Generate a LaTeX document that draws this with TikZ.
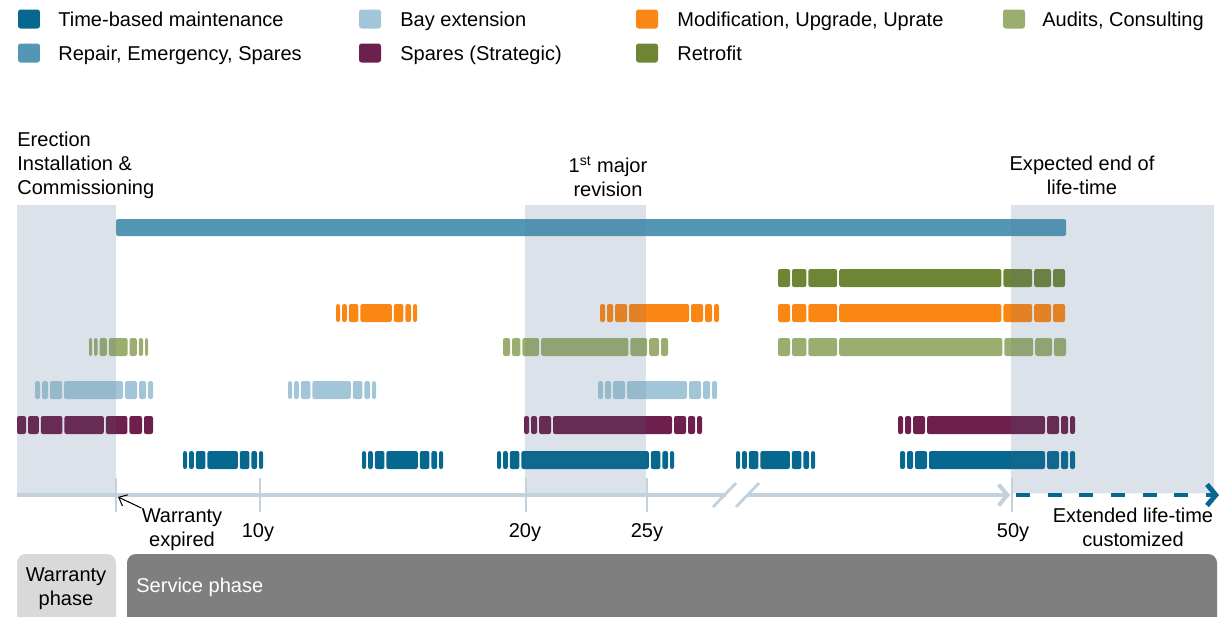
\documentclass[tikz,border=0pt]{standalone}
\usepackage{fontspec}
\setmainfont{Liberation Sans}
\usetikzlibrary{arrows.meta}

\definecolor{tbm}{HTML}{07688F}
\definecolor{rep}{HTML}{5397B5}
\definecolor{bay}{HTML}{A2C6D7}
\definecolor{spa}{HTML}{6D204E}
\definecolor{mod}{HTML}{FA8614}
\definecolor{aud}{HTML}{9BAE70}
\definecolor{ret}{HTML}{6E8536}
\definecolor{phasebg}{HTML}{F3F6F9}
\definecolor{phasetint}{HTML}{506E8C}
\definecolor{axisc}{HTML}{C3D1DD}
\definecolor{wbox}{HTML}{D9D9D9}
\definecolor{sbox}{HTML}{7F7F7F}

\newcommand{\lblfont}{\fontsize{11.4}{13.66}\selectfont}

\tikzset{
        lbl/.style={font=\lblfont, inner sep=0pt},
        key/.style={minimum width=0.44cm, minimum height=0.38cm, inner sep=0pt, rounded corners=1.5pt},
        seg/.style={rounded corners=1.2pt},
        tint/.style={fill=phasetint, fill opacity=0.14},
        axisline/.style={draw=axisc, line width=2.3pt},
        tick/.style={draw=axisc, line width=1.6pt},
        ext/.style={draw=tbm, line width=2.8pt, dash pattern=on 8pt off 10pt},
}

% segmented bar: colour, y, x start, x end, unit of the end pieces
\newcommand{\segbar}[5]{%
        \pgfmathsetmacro\sxa{#3+#5}
        \pgfmathsetmacro\sxb{\sxa+2}
        \pgfmathsetmacro\sxc{\sxb+1.2*#5}
        \pgfmathsetmacro\sxd{\sxc+2}
        \pgfmathsetmacro\sxe{\sxd+2.4*#5}
        \pgfmathsetmacro\sxf{\sxe+2}
        \pgfmathsetmacro\sxn{#4-#5}
        \pgfmathsetmacro\sxm{\sxn-2}
        \pgfmathsetmacro\sxl{\sxm-1.4*#5}
        \pgfmathsetmacro\sxk{\sxl-2}
        \pgfmathsetmacro\sxj{\sxk-2.4*#5}
        \pgfmathsetmacro\sxi{\sxj-2}
        \foreach \u/\v in {#3/\sxa,\sxb/\sxc,\sxd/\sxe,\sxf/\sxi,\sxj/\sxk,\sxl/\sxm,\sxn/#4}
                \fill[seg,#1] (\u,#2-9) rectangle (\v,#2+9);
}

\begin{document}
\begin{tikzpicture}[x=0.02cm,y=-0.02cm]
        \useasboundingbox (0,0) rectangle (1230,616);
        % legend
        \node[key,fill=tbm](k1) at (29,19) {};
        \node[lbl,anchor=base west](t1) at (58,26) {Time-based maintenance};
        \node[key,fill=rep](k2) at (29,53) {};
        \node[lbl,anchor=base west](t2) at (58,60) {Repair, Emergency, Spares};
        \node[key,fill=bay](k3) at (370,19) {};
        \node[lbl,anchor=base west](t3) at (400,26) {Bay extension};
        \node[key,fill=spa](k4) at (370,53) {};
        \node[lbl,anchor=base west](t4) at (400,60) {Spares (Strategic)};
        \node[key,fill=mod](k5) at (647,19) {};
        \node[lbl,anchor=base west](t5) at (677,26) {Modification, Upgrade, Uprate};
        \node[key,fill=ret](k6) at (647,53) {};
        \node[lbl,anchor=base west](t6) at (677,60) {Retrofit};
        \node[key,fill=aud](k7) at (1014,19) {};
        \node[lbl,anchor=base west](t7) at (1042,26) {Audits, Consulting};
        % phase labels
        \node[lbl,align=left,anchor=north west](er) at (17,132) {Erection\\Installation \&\\Commissioning};
        \node[lbl,align=center,anchor=north](mr) at (608,156) {1\textsuperscript{st} major\\revision};
        \node[lbl,align=center,anchor=north](ee) at (1082,156) {Expected end of\\life-time};
        % shaded phases
        \fill[phasebg] (17,205) rectangle (116,494);
        \fill[phasebg] (525,205) rectangle (646,494);
        \fill[phasebg] (1011,205) rectangle (1214,494);
        % bars
        \fill[seg,rep] (116,219) rectangle (1066,236);
        \segbar{ret}{278}{778}{1065}{12}
        \segbar{mod}{313}{336}{417}{4}
        \segbar{mod}{313}{600}{719}{5}
        \segbar{mod}{313}{778}{1065}{12}
        \segbar{aud}{347}{89}{148}{3}
        \segbar{aud}{347}{503}{668}{7}
        \segbar{aud}{347}{778}{1066}{12}
        \segbar{bay}{390}{35}{153}{5}
        \segbar{bay}{390}{288}{376}{4}
        \segbar{bay}{390}{598}{717}{5}
        \segbar{spa}{425}{17}{153}{9}
        \segbar{spa}{425}{524}{702}{5}
        \segbar{spa}{425}{898}{1075}{5}
        \segbar{tbm}{460}{183}{263}{4}
        \segbar{tbm}{460}{362}{443}{4}
        \segbar{tbm}{460}{497}{674}{4}
        \segbar{tbm}{460}{736}{815}{4}
        \segbar{tbm}{460}{900}{1075}{5}
        % tint over the phases
        \fill[tint] (17,205) rectangle (116,493);
        \fill[tint] (525,205) rectangle (646,493);
        \fill[tint] (1011,205) rectangle (1214,493);
        % time axis
        \coordinate(a0) at (17,495);
        \coordinate(a1) at (726,495);
        \coordinate(a2) at (748,495);
        \coordinate(a3) at (1010,495);
        \coordinate(a4) at (1016,495);
        \coordinate(a5) at (1219,495);
        \draw[axisline](a0)--(a1);
        \draw[axisline,-{Straight Barb[length=5pt,width=12pt]}](a2)--(a3);
        \draw[ext,-{Straight Barb[length=5pt,width=12pt]}](a4)--(a5);
        \coordinate(s1) at (713,507);
        \coordinate(s2) at (736,483);
        \coordinate(s3) at (736,507);
        \coordinate(s4) at (759,483);
        \draw[tick](s1)--(s2);
        \draw[tick](s3)--(s4);
        \foreach \x in {116,260,526,647,1012}
                \draw[tick] (\x,478)--(\x,512);
        \node[lbl,anchor=base](y10) at (258,537) {10y};
        \node[lbl,anchor=base](y20) at (525,537) {20y};
        \node[lbl,anchor=base](y25) at (647,537) {25y};
        \node[lbl,anchor=base](y50) at (1013,537) {50y};
        \node[lbl,align=center,anchor=north](we) at (182,508) {Warranty\\expired};
        \coordinate(wt) at (118,497);
        \draw[line width=0.6pt,-{Straight Barb[length=4pt,width=7pt]}](we.north west)--(wt);
        \node[lbl,align=center,anchor=north](el) at (1133,508) {Extended life-time\\customized};
        % phases
        \begin{scope}
        \clip (0,0) rectangle (1230,616);
        \fill[wbox,rounded corners=5pt] (17,554) rectangle (116,640);
        \fill[sbox,rounded corners=5pt] (127,554) rectangle (1217,640);
        \end{scope}
        \node[lbl,align=center,anchor=north](wp) at (66,567) {Warranty\\phase};
        \node[lbl,anchor=base west,text=white](sp) at (136,592) {Service phase};
\end{tikzpicture}
\end{document}
